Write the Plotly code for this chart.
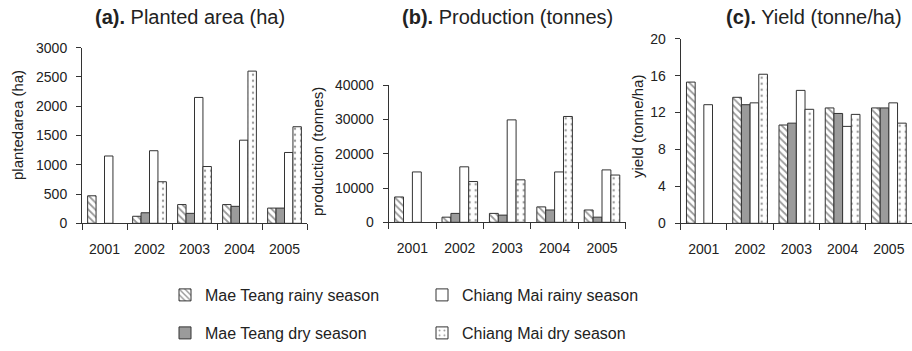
import plotly.graph_objects as go

years = ["2001", "2002", "2003", "2004", "2005"]
series_names = ["Mae Teang rainy season", "Mae Teang dry season",
                "Chiang Mai rainy season", "Chiang Mai dry season"]

area_mt_rainy = [470, 120, 320, 320, 260]
area_mt_dry = [None, 180, 170, 290, 260]
area_cm_rainy = [1150, 1240, 2150, 1420, 1210]
area_cm_dry = [None, 710, 970, 2600, 1650]

prod_mt_rainy = [7400, 1500, 2600, 4500, 3600]
prod_mt_dry = [None, 2600, 2100, 3600, 1500]
prod_cm_rainy = [14700, 16200, 29900, 14700, 15300]
prod_cm_dry = [None, 11900, 12400, 30900, 13800]

yield_mt_rainy = [15.3, 13.65, 10.65, 12.5, 12.5]
yield_mt_dry = [None, 12.85, 10.85, 11.9, 12.5]
yield_cm_rainy = [12.85, 13.05, 14.4, 10.5, 13.05]
yield_cm_dry = [None, 16.15, 12.35, 11.8, 10.85]

area_ticks = [0, 500, 1000, 1500, 2000, 2500, 3000]
prod_ticks = [0, 10000, 20000, 30000, 40000]
yield_ticks = [0, 4, 8, 12, 16, 20]

FONT = "Liberation Sans, Arial, sans-serif"
LINE = "#333333"

styles = [
    dict(color="white", pattern=dict(shape="\\", size=5, solidity=0.35, fgcolor="#333333", bgcolor="white")),
    dict(color="#9b9b9b"),
    dict(color="white"),
    dict(color="white", pattern=dict(shape=".", size=6, solidity=0.12, fgcolor="#333333", bgcolor="white")),
]
legends = ["legend", "legend2", "legend", "legend2"]

panels = [
    ([area_mt_rainy, area_mt_dry, area_cm_rainy, area_cm_dry], "x", "y"),
    ([prod_mt_rainy, prod_mt_dry, prod_cm_rainy, prod_cm_dry], "x2", "y2"),
    ([yield_mt_rainy, yield_mt_dry, yield_cm_rainy, yield_cm_dry], "x3", "y3"),
]

fig = go.Figure()
for p, (vals, xa, ya) in enumerate(panels):
    for i, v in enumerate(vals):
        m = dict(styles[i])
        m["line"] = dict(color=LINE, width=1)
        fig.add_trace(go.Bar(
            x=years, y=v, name=series_names[i], marker=m,
            xaxis=xa, yaxis=ya, showlegend=(p == 0),
            legend=legends[i], legendrank=i,
        ))

W, H = 912, 351

def px_x(a, b):
    return [a / W, min(b / W, 1.0)]

def px_y(bottom, top):
    return [1 - bottom / H, 1 - top / H]

xcommon = dict(type="category", range=[-0.5, 4.5], showline=True, linecolor=LINE, linewidth=1,
               ticks="outside", tickson="boundaries", ticklen=6, tickcolor=LINE,
               tickfont=dict(size=14, color="#222"), showgrid=False, zeroline=False,
               automargin=False, fixedrange=True, ticklabelstandoff=13)
ycommon = dict(showline=True, linecolor=LINE, linewidth=1, ticks="outside", ticklen=5,
               tickcolor=LINE, tickfont=dict(size=14, color="#222"), showgrid=False,
               zeroline=False, automargin=False, fixedrange=True, ticklabelstandoff=6,
               tickformat="d")

fig.update_layout(
    width=W, height=H, margin=dict(l=0, r=0, t=0, b=0),
    paper_bgcolor="white", plot_bgcolor="white",
    font=dict(family=FONT, color="#222"),
    barmode="group", bargap=0.25, bargroupgap=0,
    xaxis=dict(xcommon, domain=px_x(82, 307), anchor="y"),
    yaxis=dict(ycommon, domain=px_y(223.3, 47.7), range=[0, 3000], tickvals=area_ticks, anchor="x"),
    xaxis2=dict(xcommon, domain=px_x(388.7, 625.7), anchor="y2"),
    yaxis2=dict(ycommon, domain=px_y(222.3, 85.3), range=[0, 40000], tickvals=prod_ticks, anchor="x2"),
    xaxis3=dict(xcommon, domain=px_x(680.7, 913), anchor="y3"),
    yaxis3=dict(ycommon, domain=px_y(223.3, 38.7), range=[0, 20], tickvals=yield_ticks, anchor="x3"),
    legend=dict(orientation="h", x=165 / W, y=1 - 295 / H, xanchor="left", yanchor="middle",
                font=dict(size=16, color="#222"), entrywidth=212, bgcolor="rgba(0,0,0,0)",
                traceorder="normal"),
    legend2=dict(orientation="h", x=165 / W, y=1 - 333 / H, xanchor="left", yanchor="middle",
                 font=dict(size=16, color="#222"), entrywidth=212, bgcolor="rgba(0,0,0,0)",
                 traceorder="normal"),
)

titles = [("<b>(a).</b> Planted area (ha)", 190), ("<b>(b).</b> Production (tonnes)", 508),
          ("<b>(c).</b> Yield (tonne/ha)", 814)]
for t, cx in titles:
    fig.add_annotation(text=t, x=cx / W, y=1 - 17 / H, xref="paper", yref="paper",
                       showarrow=False, font=dict(size=20, color="#222"), xanchor="center", yanchor="middle")

ytitles = [("plantedarea (ha)", 17, 125), ("production (tonnes)", 318, 152), ("yield (tonne/ha)", 637, 127)]
for t, cx, cy in ytitles:
    fig.add_annotation(text=t, x=cx / W, y=1 - cy / H, xref="paper", yref="paper", textangle=-90,
                       showarrow=False, font=dict(size=15, color="#222"), xanchor="center", yanchor="middle")

fig.write_html("out.html", config={"displayModeBar": False},
               post_script="document.body.style.margin='0';document.body.style.overflow='hidden';")
